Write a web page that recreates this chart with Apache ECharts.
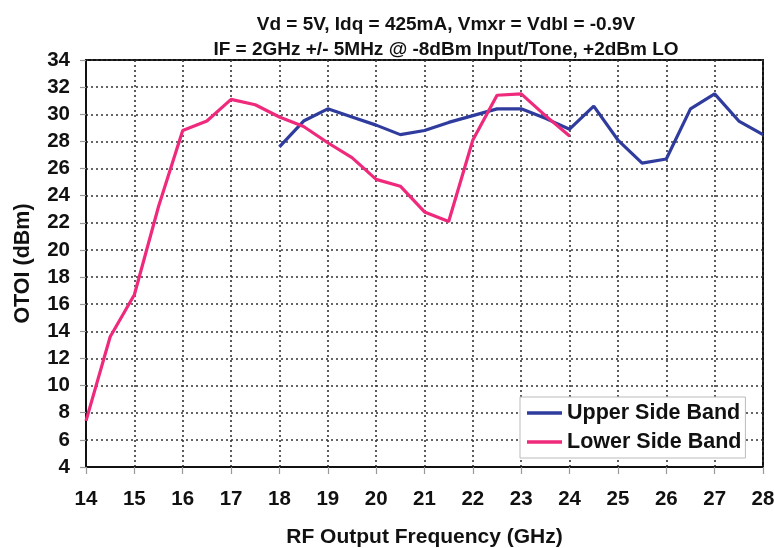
<!DOCTYPE html>
<html><head><meta charset="utf-8">
<script src="https://cdn.jsdelivr.net/npm/echarts@6/dist/echarts.min.js"></script>
<style>html,body{margin:0;padding:0;background:#fff}#c{width:774px;height:548px}</style>
</head><body><div id="c"></div>
<script>
var titleLines = ['Vd = 5V, Idq = 425mA, Vmxr = Vdbl = -0.9V', 'IF = 2GHz +/- 5MHz @ -8dBm Input/Tone, +2dBm LO'];
var xName = 'RF Output Frequency (GHz)';
var yName = 'OTOI (dBm)';
var seriesNames = ['Upper Side Band', 'Lower Side Band'];
var usbFreq = [18,18.5,19,19.5,20,20.5,21,21.5,22,22.5,23,23.5,24,24.5,25,25.5,26,26.5,27,27.5,28];
var usbOtoi = [27.6,29.5,30.4,29.8,29.2,28.5,28.8,29.4,29.9,30.4,30.4,29.7,28.9,30.6,28.1,26.4,26.7,30.4,31.5,29.5,28.5];
var lsbFreq = [14,14.5,15,15.5,16,16.5,17,17.5,18,18.5,19,19.5,20,20.5,21,21.5,22,22.5,23,23.5,24];
var lsbOtoi = [7.4,13.6,16.7,23.2,28.8,29.5,31.1,30.7,29.8,29.1,27.9,26.8,25.2,24.7,22.8,22.1,28.1,31.4,31.5,29.9,28.4];

function pairs(xs, ys){ return xs.map(function(x,i){ return [x, ys[i]]; }); }
var FONT = 'Liberation Sans, Arial, sans-serif';
var chart = echarts.init(document.getElementById('c'), null, {renderer:'canvas'});
var gridLine = {show:true, lineStyle:{color:'#333', width:1.6, type:[2,3]}};
chart.setOption({
  animation:false,
  backgroundColor:'#fff',
  title:{text:titleLines.join('\n'), left:441, top:7, textAlign:'center',
    textStyle:{fontFamily:FONT, fontSize:19, fontWeight:'bold', color:'#111', lineHeight:25}},
  grid:{left:86, right:11, top:60, bottom:81, show:true, borderColor:'#111', borderWidth:2, backgroundColor:'transparent',
    containLabel:false, outerBoundsMode:'none'},
  xAxis:{type:'value', min:14, max:28, interval:1, name:xName, nameLocation:'middle', nameGap:60,
    nameTextStyle:{fontFamily:FONT, fontSize:21, fontWeight:'bold', color:'#111'},
    axisLine:{show:true, lineStyle:{color:'#111', width:2}},
    axisTick:{show:true, length:7, lineStyle:{color:'#999', width:1.2}},
    axisLabel:{fontFamily:FONT, fontSize:20.5, fontWeight:'bold', color:'#111', margin:22},
    splitLine:gridLine},
  yAxis:{type:'value', min:4, max:34, interval:2, name:yName, nameLocation:'middle', nameGap:52, nameRotate:90,
    nameTextStyle:{fontFamily:FONT, fontSize:21.5, fontWeight:'bold', color:'#111'},
    axisLine:{show:true, lineStyle:{color:'#111', width:2}},
    axisTick:{show:true, length:6, lineStyle:{color:'#999', width:1.2}},
    axisLabel:{fontFamily:FONT, fontSize:20.5, fontWeight:'bold', color:'#111', margin:16},
    splitLine:gridLine},
  legend:{orient:'vertical', left:520, top:397, itemGap:7, itemWidth:35, itemHeight:3.5, icon:'rect',
    padding:[5,4,5,7], backgroundColor:'#fff', borderColor:'#bbb', borderWidth:1, borderRadius:0,
    textStyle:{fontFamily:FONT, fontSize:21.5, fontWeight:'bold', color:'#111'},
    data:seriesNames},
  series:[
    {name:seriesNames[0], type:'line', data:pairs(usbFreq, usbOtoi), showSymbol:false, symbol:'none',
      lineStyle:{color:'#2f3c9e', width:3.2}, itemStyle:{color:'#2f3c9e'}, z:3},
    {name:seriesNames[1], type:'line', data:pairs(lsbFreq, lsbOtoi), showSymbol:false, symbol:'none',
      lineStyle:{color:'#ef2a7c', width:3.2}, itemStyle:{color:'#ef2a7c'}, z:4}
  ]
});
</script></body></html>
